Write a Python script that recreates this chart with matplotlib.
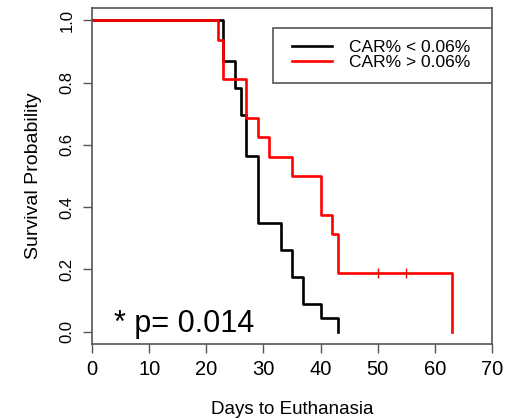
import matplotlib
matplotlib.use("Agg")
import matplotlib.pyplot as plt
from matplotlib.patches import Rectangle

plt.rcParams['font.family'] = ['Liberation Sans', 'DejaVu Sans']

# Kaplan-Meier steps
low_times = [0, 23, 25, 26, 27, 29, 33, 35, 37, 40, 43]
low_surv = [1.0, 0.870, 0.783, 0.696, 0.565, 0.348, 0.261, 0.174, 0.087, 0.043, 0.0]
high_times = [0, 22, 23, 27, 29, 31, 35, 40, 42, 43, 63]
high_surv = [1.0, 0.9375, 0.8125, 0.6875, 0.625, 0.5625, 0.5, 0.375, 0.3125, 0.1875, 0.0]
high_cens_times = [50, 55]
high_cens_surv = [0.1875, 0.1875]

labels = ["CAR% < 0.06%", "CAR% > 0.06%"]
xticks = [0, 10, 20, 30, 40, 50, 60, 70]
yticks = [0.0, 0.2, 0.4, 0.6, 0.8, 1.0]

fig = plt.figure(figsize=(5.1, 4.19), dpi=100)
ax = fig.add_axes([0.1804, 0.179, 0.7843, 0.8019])

ax.step(low_times, low_surv, where='post', color='black', lw=1.9, label=labels[0])
ax.step(high_times, high_surv, where='post', color='#ff0000', lw=1.9, label=labels[1])
ax.plot(high_cens_times, high_cens_surv, ls='none', marker='|', ms=7, mew=1,
        color='#ff0000')

ax.set_xlim(0, 70)
ax.set_ylim(-0.04, 1.04)
ax.set_xticks(xticks)
ax.set_yticks(yticks)
ax.set_yticklabels([f"{v:.1f}" for v in yticks])
for lab in ax.get_yticklabels():
    lab.set_rotation(90)
    lab.set_va('center')

for s in ax.spines.values():
    s.set_color('#555555')
    s.set_linewidth(1.2)
ax.tick_params(axis='x', length=6.5, width=1, color='#555555', labelsize=14.5, pad=5)
ax.tick_params(axis='y', length=6.5, width=1, color='#555555', labelsize=12, pad=6)

ax.set_xlabel("Days to Euthanasia", fontsize=13.5, labelpad=16)
ax.set_ylabel("Survival Probability", fontsize=14, labelpad=13)

ax.text(3.9, 0.0, "* p= 0.014", fontsize=22, ha='left', va='baseline')

# legend box drawn separately so the padding can differ left/right vs top/bottom
ax.add_patch(Rectangle((0.4525, 0.777), 0.5475, 0.1635, transform=ax.transAxes,
                       facecolor='white', edgecolor='#555555', lw=1.2, zorder=4))
leg = ax.legend(loc='upper left', bbox_to_anchor=(0.5, 0.906), borderaxespad=0,
                frameon=False, fontsize=12.5, handlelength=2.3, handletextpad=1.0,
                labelspacing=0.0, borderpad=0)
leg.set_zorder(5)

fig.savefig("out.png", dpi=100)
